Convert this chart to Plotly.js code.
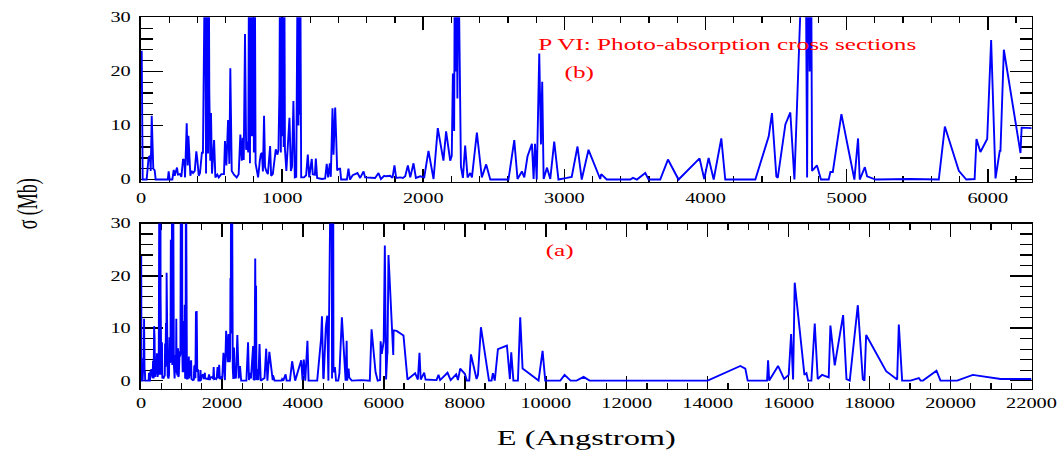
<!DOCTYPE html>
<html>
<head>
<meta charset="utf-8">
<script src="https://cdn.plot.ly/plotly-3.0.1.min.js"></script>
<style>html,body{margin:0;padding:0;background:#fff;}#chart{width:1063px;height:452px;}</style>
</head>
<body>
<div id="chart"></div>
<script>
// Photon wavelength E (Angstrom)
const energy = [
5,12,40,54,64,69,76,81,87,97,104,190,196,203,222,232,239,246,255,262,276,286,298,307,312,324,331,336,343,350,357,369,381,392,399,409,418,432,439,447,454,461,468,475,480,484,491,496,503,518,527,541,551,569,588,595,605,617,626,633,643,659,678,692,704,714,721,728,737,745,752,760,766,772,779,786,793,800,806,812,820,830,842,849,857,864,872,879,889,899,915,922,934,945,955,967,974,981,986,991,996,1001,1006,1011,1015,1020,1030,1052,1062,1070,1080,1090,1100,1111,1116,1120,1125,1128,1135,1155,1170,1182,1192,1210,1217,1232,1239,1248,1282,1305,1316,1326,1338,1345,1357,1364,1376,1383,1390,1403,1411,1418,1440,1459,1470,1481,1500,1524,1534,1553,1577,1588,1659,1683,1700,1723,1735,1766,1782,1796,1808,1837,1856,1872,1891,1908,1931,1948,1979,2007,2037,2073,2103,2143,2162,2191,2202,2210,2219,2224,2230,2236,2242,2248,2267,2281,2297,2314,2333,2345,2380,2415,2446,2475,2604,2645,2668,2699,2716,2739,2770,2782,2792,2804,2822,2834,2843,2853,2877,2900,2928,2958,3017,3052,3093,3123,3171,3254,3261,3300,3467,3486,3514,3573,3597,3679,3734,3809,3958,3991,4022,4058,4112,4140,4300,4353,4448,4471,4502,4512,4566,4601,4630,4665,4691,4700,4710,4720,4727,4738,4748,4755,4790,4818,4873,4885,4902,4963,5039,5055,5081,5093,5129,5145,5206,5452,5653,5696,5795,5848,5907,5920,5948,5996,6024,6055,6085,6090,6114,6232,6240,6315,6485,6584,6773,6840,6880,6910,6996,7030,7300,7350,7390,7515,7573,7650,7787,7830,7886,8000,8052,8110,8151,8290,8325,8398,8597,8660,8694,8740,8818,9040,9114,9147,9200,9312,9369,9427,9822,9921,9987,10358,10465,10613,10762,10934,11082,14000,14807,14930,14988,15467,15492,15520,15739,15888,16002,16061,16110,16150,16390,16440,16480,16562,16645,16719,16826,16990,17032,17139,17346,17429,17510,17709,17832,17873,17915,18409,18681,18722,18804,19010,19216,19260,19319,19653,19751,20164,20550,21235,22000
];
// Photo-absorption cross section sigma (Mb)
const sigma = [
23.8,0,0,4.1,4.4,1.6,11.8,3.8,2.0,1.7,0,0,1.5,0,0,1.8,0.7,1.4,2.2,0.9,1.0,0.5,3.8,3.5,0.4,10.4,2.6,8.1,2.2,0.7,1.6,1.2,1.6,5.2,3.7,0.7,1.2,5.1,4.8,25,45,1.1,45,4.8,45,16.3,3.5,12.3,1.1,7.3,0.4,0.9,0.4,1.0,1.0,7.1,2.6,11.0,2.9,20.6,1.6,0.9,0.4,1.0,8.3,3.5,7.7,3.6,26.9,5.5,7,5,45,3,45,8,45,5,45,3,2.0,0.4,3.5,4.7,4.9,1.5,11.8,2.3,1.5,1.0,6.2,0.7,1.0,3.5,5.6,4.6,5.5,16.4,45,5,45,8,45,6,45,5.6,1.6,11.4,1.6,2.4,14.5,0.4,0.5,45,10,45,12,45,0.4,0.4,0.8,4.6,0.4,3.8,1.0,0.9,3.9,0.3,0.1,0.2,2.9,0.4,3.0,0.5,13.2,4.6,13.3,7.8,1.7,2.0,2.0,0,0,0,2.0,0,0.8,1.1,1.2,0.3,1.5,0.4,0.3,1.2,0.1,0.7,0.6,0.7,0.3,2.6,0.3,0.4,0.3,0.6,2.6,0.4,3.0,0.3,0.6,0.4,5.3,0.1,9.5,3.5,8.9,3.5,4.4,19.6,9,45,20,45,15,45,2.4,0.3,6.3,0.4,1.2,0.4,8.7,0.4,2.8,0,0,7.3,0.1,1.5,0.4,4.3,6.6,0.1,6.6,0,23.3,6.5,18.1,0.1,2.2,0.1,7.0,0,0.3,0.5,6.1,0,5.5,0.1,1.0,0,0,0.3,0,1.2,0,0,3.7,0,3.9,0.1,4.0,0,7.6,0,0,0,8.0,12.3,0.6,0.3,10.2,12.4,0,25.8,45,30,45,0.4,45,20,45,1.6,2.6,0,0,1.4,1.4,12.1,1.5,0,7.6,0,2.3,0.6,0,0.1,0,9.8,1.6,0,0.1,7.5,5.1,7.5,25.8,0.2,5.3,5.3,24.0,4.9,9.6,9.5,8.6,0.2,1.4,0.2,5.3,0.2,1.5,0.2,0.1,1.1,0.1,1.0,1.5,0.1,1.2,0.1,2.3,1.3,0,0,5.0,0.3,1.1,10.2,0,0,1.4,0,6.0,6.7,0.3,5.4,0,0,12.1,2.3,0,5.7,0,0,1.1,0,0,0.7,0,0,2.8,2.3,0,0,3.9,0,2.8,0.3,1.1,8.9,0.2,18.7,1.1,1.4,0,0,10.9,0.3,1.1,0.6,10.5,2.9,12.5,0.3,0,14.4,0.3,0,8.7,1.8,0.2,10.7,0,0,0.5,0,0,1.9,0,0,1.1,0.3,0.3
];
const topTicks = [0,1000,2000,3000,4000,5000,6000];
const bottomTicks = [0,2000,4000,6000,8000,10000,12000,14000,16000,18000,20000,22000];
const yTicks = [0,10,20,30];
const titleText = 'P VI: Photo-absorption cross sections';

const serif = 'Liberation Serif, Times New Roman, serif';
const lineStyle = {color:'#0000ff', width:1.9};
const traces = [
  {x:energy, y:sigma, type:'scatter', mode:'lines', line:lineStyle, xaxis:'x', yaxis:'y', hoverinfo:'skip'},
  {x:energy, y:sigma, type:'scatter', mode:'lines', line:lineStyle, xaxis:'x2', yaxis:'y2', hoverinfo:'skip'}
];
function xax(range, ticks, minorD, anchor, standoff){
  return {domain:[0.13264,0.97037], range:range, anchor:anchor, tickmode:'array', tickvals:ticks, ticktext:ticks.map(String),
    ticks:'inside', ticklen:13, tickwidth:1.5, tickcolor:'black', mirror:'allticks', showline:true, linecolor:'black', linewidth:1.5,
    showgrid:false, zeroline:false, layer:'below traces', ticklabelstandoff:standoff, tickfont:{family:serif, size:14, color:'black'},
    minor:{dtick:minorD, tick0:0, ticks:'inside', ticklen:6, tickwidth:1.2, tickcolor:'black', showgrid:false}};
}
function yax(domain, range, anchor){
  return {domain:domain, range:range, anchor:anchor, tickmode:'array', tickvals:yTicks, ticktext:yTicks.map(String),
    ticks:'inside', ticklen:22, tickwidth:1.5, tickcolor:'black', mirror:'allticks', showline:true, linecolor:'black', linewidth:1.5,
    showgrid:false, zeroline:false, layer:'below traces', ticklabelstandoff:6, tickfont:{family:serif, size:14, color:'black'},
    minor:{dtick:2, tick0:0, ticks:'inside', ticklen:12, tickwidth:1.2, tickcolor:'black', showgrid:false}};
}
const layout = {
  width:1063, height:452, margin:{l:0,r:0,t:0,b:0},
  paper_bgcolor:'#ffffff', plot_bgcolor:'#ffffff', showlegend:false,
  xaxis: xax([0,6310], topTicks, 200, 'y', 3),
  yaxis: yax([0.598,0.9617], [-0.4,30], 'x'),
  xaxis2: xax([0,22000], bottomTicks, 500, 'y2', 1),
  yaxis2: yax([0.1394,0.5055], [-1.6,30], 'x2'),
  annotations:[
    {text:titleText, x:727/1063, y:1-44/452, xref:'paper', yref:'paper', xanchor:'center', yanchor:'middle', showarrow:false, font:{family:serif, size:17.5, color:'#ff0000'}},
    {text:'(b)', x:579/1063, y:1-72/452, xref:'paper', yref:'paper', xanchor:'center', yanchor:'middle', showarrow:false, font:{family:serif, size:17.5, color:'#ff0000'}},
    {text:'(a)', x:560/1063, y:1-250/452, xref:'paper', yref:'paper', xanchor:'center', yanchor:'middle', showarrow:false, font:{family:serif, size:17.5, color:'#ff0000'}},
    {text:'E (Angstrom)', x:586/1063, y:1-438/452, xref:'paper', yref:'paper', xanchor:'center', yanchor:'middle', showarrow:false, font:{family:serif, size:20, color:'black'}},
    {text:'σ (Mb)', x:27/1063, y:1-204/452, xref:'paper', yref:'paper', xanchor:'center', yanchor:'middle', textangle:-90, showarrow:false, font:{family:serif, size:29, color:'black'}}
  ]
};
Plotly.newPlot('chart', traces, layout, {staticPlot:true, displayModeBar:false}).then(function(gd){
  // the reference typesetting is horizontally wide: widen glyphs of the horizontal texts
  function widen(nodes, factor){
    nodes.forEach(function(t){
      const w = t.getComputedTextLength();
      if (w > 0){ t.setAttribute('textLength', (w*factor).toFixed(1)); t.setAttribute('lengthAdjust','spacingAndGlyphs'); }
    });
  }
  widen(gd.querySelectorAll('g.xtick text, g.x2tick text, g.ytick text, g.y2tick text'), 1.45);
  const ann = Array.from(gd.querySelectorAll('text.annotation-text'));
  widen(ann.filter(function(t){ return /Photo|\(a\)|\(b\)/.test(t.textContent); }), 1.44);
  widen(ann.filter(function(t){ return /Angstrom/.test(t.textContent); }), 1.62);
  // vertical label: glyphs are wide across, short along the reading direction
  widen(ann.filter(function(t){ return /Mb/.test(t.textContent); }), 0.62);
});
</script>
</body>
</html>
